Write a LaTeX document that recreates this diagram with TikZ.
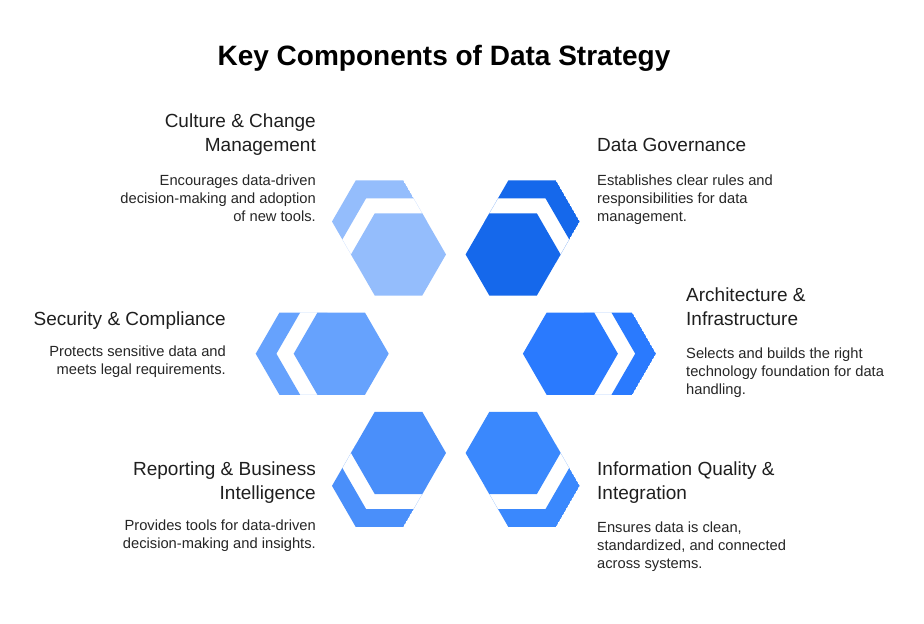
\documentclass[tikz,border=0pt]{standalone}
\usepackage{fontspec}
\setmainfont{Liberation Sans}
\usetikzlibrary{calc}
\begin{document}
\begin{tikzpicture}[x=1pt,y=-1pt,
  head/.style={inner sep=0pt, font=\fontsize{19}{24}\selectfont, text=black!88},
  body/.style={inner sep=0pt, font=\fontsize{14.7}{17.6}\selectfont, text=black!85},
  ttl/.style={inner sep=0pt, font=\fontsize{28}{32}\selectfont\bfseries, text=black}]
\definecolor{cTL}{HTML}{94BDFC}
\definecolor{cTR}{HTML}{1568EB}
\definecolor{cML}{HTML}{66A2FD}
\definecolor{cMR}{HTML}{2A7AFE}
\definecolor{cBL}{HTML}{4A8FFA}
\definecolor{cBR}{HTML}{3A88FD}
\useasboundingbox (0,0) rectangle (924,624);
\fill[white] (0,0) rectangle (924,624);
\newcommand\hexshape[2]{($(#1)+(0:#2)$) -- ($(#1)+(60:#2)$) -- ($(#1)+(120:#2)$) -- ($(#1)+(180:#2)$) -- ($(#1)+(240:#2)$) -- ($(#1)+(300:#2)$) -- cycle}
\coordinate (C) at (455.8,353.7);
\foreach \ang/\col/\nm in {240/cTL/tl, 300/cTR/tr, 180/cML/ml, 0/cMR/mr, 120/cBL/bl, 60/cBR/br}{
  \coordinate (h\nm) at ($(C)+(\ang:114.6)$);
  \coordinate (p\nm) at ($(C)+(\ang:152.6)$);
  \begin{scope}
    \clip \hexshape{p\nm}{47.5};
    \fill[\col, even odd rule] \hexshape{p\nm}{47.5} \hexshape{h\nm}{64.8};
  \end{scope}
  \fill[\col] \hexshape{h\nm}{47.5};
}
\node[ttl, anchor=base] (title) at (444,65) {Key Components of Data Strategy};
% top-left (base anchor = last line)
\node[head, anchor=base east, align=right] (hcul) at (316,151) {Culture \& Change\\Management};
\node[body, anchor=base east, align=right] (bcul) at (316,221) {Encourages data-driven\\decision-making and adoption\\of new tools.};
% top-right
\node[head, anchor=base west, align=left] (hgov) at (597,151) {Data Governance};
\node[body, anchor=base west, align=left] (bgov) at (597,221) {Establishes clear rules and\\responsibilities for data\\management.};
% middle-left
\node[head, anchor=base east, align=right] (hsec) at (226,325) {Security \& Compliance};
\node[body, anchor=base east, align=right] (bsec) at (226,374) {Protects sensitive data and\\meets legal requirements.};
% middle-right
\node[head, anchor=base west, align=left] (harc) at (686,325) {Architecture \&\\Infrastructure};
\node[body, anchor=base west, align=left] (barc) at (686,394) {Selects and builds the right\\technology foundation for data\\handling.};
% bottom-left
\node[head, anchor=base east, align=right] (hrep) at (316,499) {Reporting \& Business\\Intelligence};
\node[body, anchor=base east, align=right] (brep) at (316,548) {Provides tools for data-driven\\decision-making and insights.};
% bottom-right
\node[head, anchor=base west, align=left] (hinf) at (597,499) {Information Quality \&\\Integration};
\node[body, anchor=base west, align=left] (binf) at (597,568) {Ensures data is clean,\\standardized, and connected\\across systems.};
\end{tikzpicture}
\end{document}
